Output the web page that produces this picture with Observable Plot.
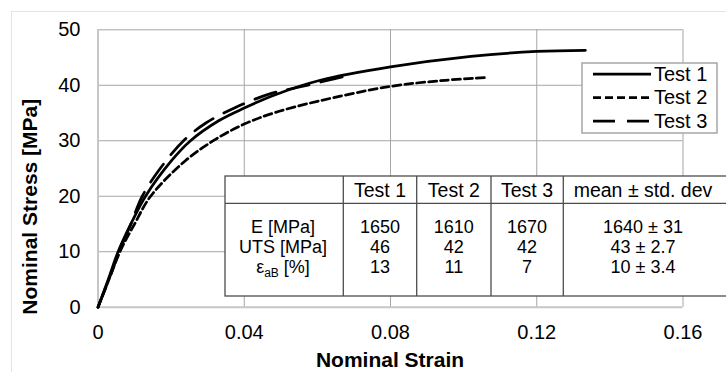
<!DOCTYPE html>
<html><head><meta charset="utf-8">
<script src="https://cdn.jsdelivr.net/npm/d3@7"></script>
<script src="https://cdn.jsdelivr.net/npm/@observablehq/plot@0.6"></script>
<style>html,body{margin:0;padding:0;background:#fff;}</style>
</head><body><div id="chart"></div>
<script>
// ---- data ----
const seriesNames = ["Test 1", "Test 2", "Test 3"];
const test1Strain = [0, 0.0028, 0.0055, 0.009, 0.013, 0.0201, 0.0253, 0.033, 0.040, 0.0485, 0.0608, 0.080, 0.102, 0.120, 0.1333];
const test1Stress = [0, 5, 10, 15, 20, 26.4, 30, 33.6, 35.9, 38.3, 40.9, 43.3, 45.2, 46.1, 46.3];
const test2Strain = [0, 0.003, 0.006, 0.010, 0.0144, 0.0239, 0.032, 0.040, 0.048, 0.060, 0.080, 0.095, 0.106];
const test2Stress = [0, 5, 10, 15, 20, 26.4, 30.2, 33.0, 35.0, 37.1, 39.8, 40.9, 41.4];
const test3Strain = [0, 0.003, 0.0058, 0.009, 0.0121, 0.017, 0.0234, 0.0295, 0.0376, 0.0472, 0.0545, 0.0636, 0.0668];
const test3Stress = [0, 5, 10, 15, 20, 25, 30, 33.2, 36.0, 38.5, 39.6, 41.0, 41.5];
const xTicks = [0, 0.04, 0.08, 0.12, 0.16];
const yTicks = [0, 10, 20, 30, 40, 50];
const xLabel = "Nominal Strain";
const yLabel = "Nominal Stress [MPa]";
const tableHeader = ["", "Test 1", "Test 2", "Test 3", "mean ± std. dev"];
const tableRowLabels = ["E [MPa]", "UTS [MPa]", "ε|aB| [%]"];
const tableTest1 = ["1650", "46", "13"];
const tableTest2 = ["1610", "42", "11"];
const tableTest3 = ["1670", "42", "7"];
const tableMean = ["1640 ± 31", "43 ± 2.7", "10 ± 3.4"];

// ---- styling ----
const FONT = "'Liberation Sans', Arial, sans-serif";
const dashes = [null, "8,4", "22,12"];
const strains = [test1Strain, test2Strain, test3Strain];
const stresses = [test1Stress, test2Stress, test3Stress];
const seriesRows = seriesNames.map((name, i) => strains[i].map((s, j) => ({series: name, strain: s, stress: stresses[i][j]})));

const W = 726, H = 372;
const mL = 97.5, mR = 43.5, mT = 29.3, mB = 65.3;

const svg = Plot.plot({
  width: W, height: H,
  marginLeft: mL, marginRight: mR, marginTop: mT, marginBottom: mB,
  style: {fontFamily: FONT, fontSize: "20px", color: "#000", background: "#fff", overflow: "hidden"},
  x: {domain: [0, 0.16], label: null},
  y: {domain: [0, 50], label: null},
  marks: [
    Plot.ruleX(xTicks.filter(d => d > 0), {stroke: "#a6a6a6", strokeWidth: 1}),
    Plot.ruleY(yTicks.filter(d => d > 0), {stroke: "#a6a6a6", strokeWidth: 1}),
    Plot.ruleX([0], {stroke: "#c6c6c6", strokeWidth: 2}),
    Plot.ruleY([0], {stroke: "#c6c6c6", strokeWidth: 2}),
    Plot.axisX(xTicks, {tickSize: 0, tickPadding: 18, fontSize: 20, tickFormat: d => String(d), label: null}),
    Plot.axisY(yTicks, {tickSize: 0, tickPadding: 17.5, fontSize: 20, label: null}),
    ...seriesRows.map((rows, i) => Plot.line(rows, {
      x: "strain", y: "stress", stroke: "#000", strokeWidth: 2.75,
      strokeDasharray: dashes[i] || undefined, curve: "catmull-rom"
    }))
  ]
});

const g = d3.select(svg);
// faint outer chart border
g.insert("rect", ":first-child").attr("x", 11.5).attr("y", 11.5).attr("width", 800).attr("height", 400)
  .attr("fill", "#fff").attr("stroke", "#e4e4e4").attr("stroke-width", 1);

// axis titles
g.append("text").attr("x", 390).attr("y", 366.5).attr("text-anchor", "middle")
  .attr("font-family", FONT).attr("font-size", 21).attr("font-weight", "bold").text(xLabel);
g.append("text").attr("transform", "translate(37,206.7) rotate(-90)").attr("text-anchor", "middle")
  .attr("font-family", FONT).attr("font-size", 21).attr("font-weight", "bold").text(yLabel);

// table
const tb = {left: 225, top: 176, right: 760, bottom: 296, headerSep: 203.3};
const colEdges = [225, 343.3, 416.7, 491, 563.3];
const colCenters = [283, 380, 453.8, 527, 643];
const headerBase = 196.7;
const rowBase = [232.5, 253, 273.3];
const T = g.append("g").attr("font-family", FONT).attr("fill", "#000");
T.append("rect").attr("x", tb.left).attr("y", tb.top).attr("width", tb.right - tb.left).attr("height", tb.bottom - tb.top)
  .attr("fill", "#fff").attr("stroke", "#4d4d4d").attr("stroke-width", 1.3);
T.append("line").attr("x1", tb.left).attr("x2", tb.right).attr("y1", tb.headerSep).attr("y2", tb.headerSep)
  .attr("stroke", "#4d4d4d").attr("stroke-width", 1.3);
colEdges.slice(1).forEach(x => T.append("line").attr("x1", x).attr("x2", x).attr("y1", tb.top).attr("y2", tb.bottom)
  .attr("stroke", "#4d4d4d").attr("stroke-width", 1.3));
tableHeader.forEach((h, i) => {
  if (!h) return;
  T.append("text").attr("x", colCenters[i]).attr("y", headerBase).attr("text-anchor", "middle")
    .attr("font-size", 19.5).text(h);
});
const cols = [tableTest1, tableTest2, tableTest3, tableMean];
tableRowLabels.forEach((lab, r) => {
  const t = T.append("text").attr("x", colCenters[0]).attr("y", rowBase[r]).attr("text-anchor", "middle").attr("font-size", 18);
  const parts = lab.split("|");
  if (parts.length === 3) {
    t.append("tspan").text(parts[0]);
    t.append("tspan").attr("font-size", 12).attr("dy", 3.5).text(parts[1]);
    t.append("tspan").attr("dy", -3.5).text(parts[2]);
  } else t.text(lab);
  cols.forEach((c, k) => T.append("text").attr("x", colCenters[k + 1]).attr("y", rowBase[r])
    .attr("text-anchor", "middle").attr("font-size", 18).text(c[r]));
});

// legend
const L = g.append("g").attr("font-family", FONT).attr("font-size", 20);
L.append("rect").attr("x", 582).attr("y", 63).attr("width", 135).attr("height", 70)
  .attr("fill", "#fff").attr("stroke", "#a6a6a6").attr("stroke-width", 1.5);
const legY = [74, 97.5, 121];
seriesNames.forEach((name, i) => {
  L.append("line").attr("x1", 593).attr("x2", 651).attr("y1", legY[i]).attr("y2", legY[i])
    .attr("stroke", "#000").attr("stroke-width", 2.75).attr("stroke-dasharray", dashes[i]);
  L.append("text").attr("x", 654).attr("y", legY[i] + 6.7).attr("text-anchor", "start").text(name);
});

document.getElementById("chart").appendChild(svg);
</script>
</body></html>
